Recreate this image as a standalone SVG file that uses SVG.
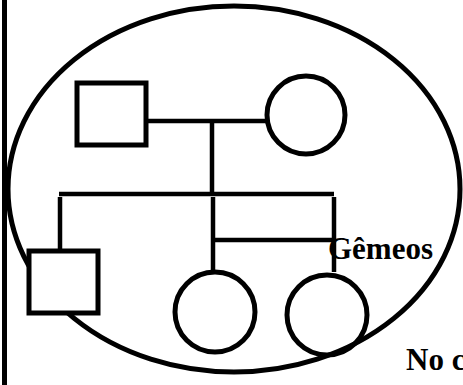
<svg xmlns="http://www.w3.org/2000/svg" width="463" height="385" viewBox="0 0 463 385">
<style>
.shape{fill:#fff;stroke:#000;stroke-width:5}
.open{fill:none;stroke:#000;stroke-width:5}
.line{stroke:#000;stroke-width:4.5;fill:none}
.lbl{font-family:"Liberation Serif","Times New Roman",serif;font-weight:bold;font-size:31px;fill:#000}
</style>
<rect x="0" y="0" width="463" height="385" fill="#fff"/>
<g id="frame">
<rect x="2" y="0" width="5" height="385" fill="#000"/>
<ellipse cx="234" cy="189" rx="226" ry="183" class="open"/>
</g>
<g id="connectors">
<line class="line" x1="147" y1="121" x2="266" y2="121"/>
<line class="line" x1="212" y1="121" x2="212" y2="193"/>
<line class="line" x1="59" y1="194" x2="334" y2="194"/>
<line class="line" x1="60" y1="197" x2="60" y2="251"/>
<line class="line" x1="213" y1="197" x2="213" y2="270"/>
<line class="line" x1="334" y1="197" x2="334" y2="272"/>
<line class="line" x1="213" y1="240" x2="334" y2="240"/>
</g>
<g id="father"><rect class="shape" x="77" y="83" width="69" height="62"/></g>
<g id="mother"><circle class="open" cx="306" cy="115" r="39"/></g>
<g id="son"><rect class="shape" x="29" y="251" width="69" height="62"/></g>
<g id="twin1"><circle class="open" cx="215" cy="312" r="40"/></g>
<g id="twin2"><circle class="open" cx="327" cy="315" r="40"/></g>
<text class="lbl" x="328" y="259">Gêmeos</text>
<text class="lbl" x="406" y="370">No c</text>
</svg>
